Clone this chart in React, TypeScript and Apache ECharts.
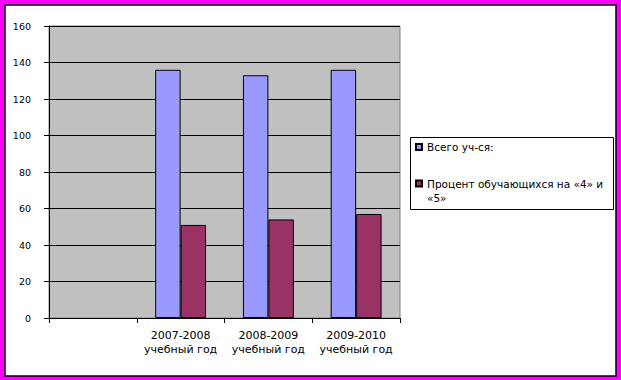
import React, { useEffect, useRef } from "react";
import * as echarts from "echarts";

const categories: string[] = [
  "",
  "2007-2008\nучебный год",
  "2008-2009\nучебный год",
  "2009-2010\nучебный год",
];
const seriesNames: string[] = ["Всего уч-ся:", "Процент обучающихся на «4» и «5»"];
const totalStudents: (number | null)[] = [null, 136, 133, 136];
const percentGood: (number | null)[] = [null, 51, 54, 57];
const yTicks = { min: 0, max: 160, interval: 20 };

const FONT = "DejaVu Sans";

export default function App() {
  const ref = useRef<HTMLDivElement>(null);
  useEffect(() => {
    if (!ref.current) return;
    const chart = echarts.init(ref.current, undefined, { renderer: "svg" });
    chart.setOption({
      animation: false,
      backgroundColor: "#FF00FF",
      graphic: [
        {
          type: "rect",
          z: -10,
          shape: { x: 5, y: 5, width: 611, height: 371 },
          style: { fill: "#FFFFFF", stroke: "#000000", lineWidth: 1.5 },
        },
        {
          type: "rect",
          z: 0,
          shape: { x: 410.5, y: 137.5, width: 203, height: 72 },
          style: { fill: "#FFFFFF", stroke: "#000000", lineWidth: 1 },
        },
      ],
      grid: {
        left: 49,
        top: 26,
        right: 221,
        bottom: 62,
        show: true,
        backgroundColor: "#C0C0C0",
        borderColor: "#808080",
        borderWidth: 1,
      },
      legend: {
        orient: "vertical",
        left: 415,
        top: 140,
        padding: 0,
        itemWidth: 6,
        itemHeight: 6,
        itemGap: 8.5,
        icon: "rect",
        textStyle: { fontFamily: FONT, fontSize: 10.5, color: "#000", lineHeight: 14 },
        formatter: (name: string) =>
          name.indexOf(" «5»") >= 0 ? "\n" + name.replace(" «5»", "\n«5»") : name,
        data: [{ name: seriesNames[0] }, { name: seriesNames[1] }],
      },
      xAxis: {
        type: "category",
        data: categories,
        axisLine: { show: true, lineStyle: { color: "#000", width: 1 } },
        axisTick: { show: true, interval: 0, length: 5, lineStyle: { color: "#000" } },
        axisLabel: {
          interval: 0,
          margin: 10,
          fontFamily: FONT,
          fontSize: 11,
          lineHeight: 14,
          color: "#000",
        },
        splitLine: { show: false },
      },
      yAxis: {
        type: "value",
        min: yTicks.min,
        max: yTicks.max,
        interval: yTicks.interval,
        axisLine: { show: true, lineStyle: { color: "#000", width: 1 } },
        axisTick: { show: true, length: 5, lineStyle: { color: "#000" } },
        axisLabel: { margin: 18, fontFamily: FONT, fontSize: 9.5, color: "#000" },
        splitLine: { show: true, lineStyle: { color: "#000", width: 1 } },
      },
      series: [
        {
          name: seriesNames[0],
          type: "bar",
          data: totalStudents,
          barGap: "0%",
          barCategoryGap: "42%",
          itemStyle: { color: "#9999FF", borderColor: "#000", borderWidth: 1 },
        },
        {
          name: seriesNames[1],
          type: "bar",
          data: percentGood,
          barGap: "0%",
          barCategoryGap: "42%",
          itemStyle: { color: "#993366", borderColor: "#000", borderWidth: 1 },
        },
      ],
    });
    return () => chart.dispose();
  }, []);
  return (
    <div
      ref={ref}
      style={{ position: "fixed", left: 0, top: 0, width: 621, height: 380 }}
    />
  );
}
